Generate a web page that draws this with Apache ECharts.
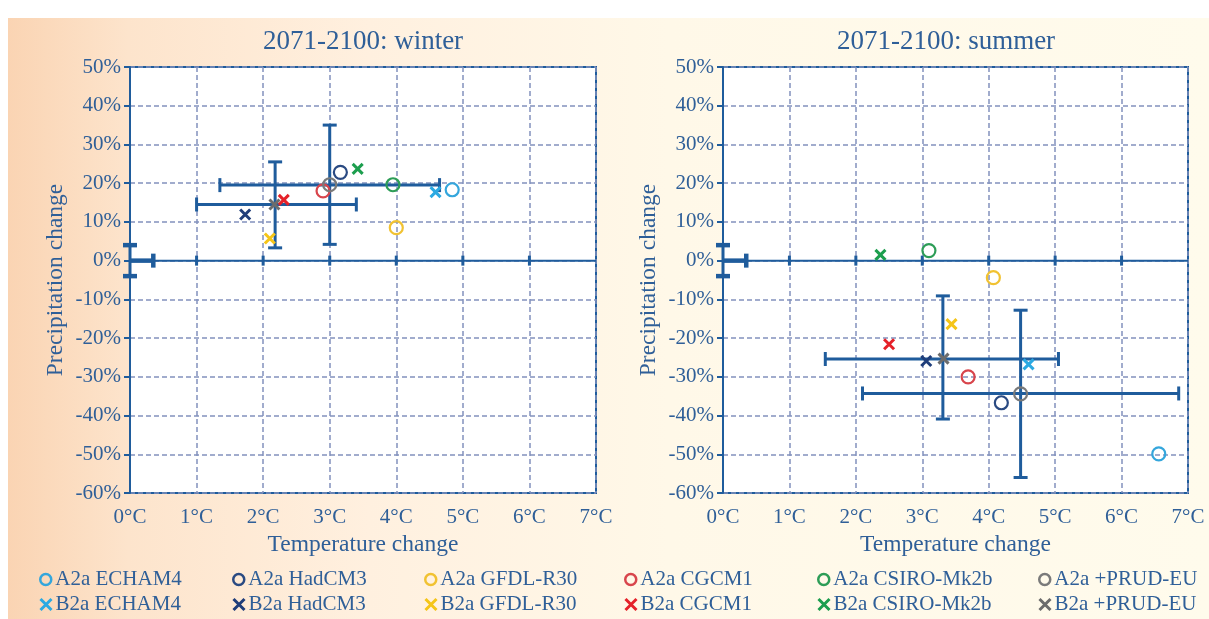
<!DOCTYPE html>
<html><head><meta charset="utf-8">
<script src="https://cdn.jsdelivr.net/npm/echarts@6/dist/echarts.min.js"></script>
<style>
html,body{margin:0;padding:0;background:#fff;overflow:hidden;}
#bg{position:absolute;left:8px;top:18px;width:1201px;height:601px;background:linear-gradient(to right,#fad4b3 0%,#fde4cc 10%,#fff0df 30%,#fff8e8 55%,#fffbec 100%);}
#chart{position:absolute;left:0;top:0;width:1209px;height:619px;}
</style></head><body><div id="bg"></div><div id="chart"></div>
<script>
// ---------- data ----------
const models = ['ECHAM4', 'HadCM3', 'GFDL-R30', 'CGCM1', 'CSIRO-Mk2b', '+PRUD-EU'];
const colorsA2a = ['#34a6dc', '#2a4a82', '#f1c232', '#d8454c', '#2d9d57', '#7a7a7a'];
const colorsB2a = ['#2ba9e2', '#1f3d7a', '#f5c518', '#e52129', '#1c9e4e', '#6c6c6c'];

const xTicks = [0, 1, 2, 3, 4, 5, 6, 7];
const xTickLabels = ['0°C', '1°C', '2°C', '3°C', '4°C', '5°C', '6°C', '7°C'];
const yTicks = [-60, -50, -40, -30, -20, -10, 0, 10, 20, 30, 40, 50];
const yTickLabels = ['-60%', '-50%', '-40%', '-30%', '-20%', '-10%', '0%', '10%', '20%', '30%', '40%', '50%'];

// winter 2071-2100
const winterA2aT = [4.84, 3.16, 4.00, 2.90, 3.95, 3.00];
const winterA2aP = [18.3, 22.8, 8.5, 18.0, 19.6, 19.6];
const winterB2aT = [4.59, 1.73, 2.10, 2.31, 3.42, 2.17];
const winterB2aP = [17.7, 11.9, 5.7, 15.7, 23.7, 14.5];
// summer 2071-2100
const summerA2aT = [6.56, 4.19, 4.07, 3.69, 3.10, 4.48];
const summerA2aP = [-49.9, -36.7, -4.4, -30.0, 2.6, -34.4];
const summerB2aT = [4.60, 3.06, 3.44, 2.50, 2.37, 3.32];
const summerB2aP = [-26.8, -25.9, -16.4, -21.6, 1.5, -25.3];

// error bars: [centerT, centerP, lowT, highT, lowP, highP]
const winterErrA2a = [3.00, 19.5, 1.35, 4.65, 4.2, 35.0];
const winterErrB2a = [2.18, 14.5, 1.00, 3.40, 3.3, 25.5];
const summerErrA2a = [4.48, -34.3, 2.10, 6.86, -56.0, -12.8];
const summerErrB2a = [3.31, -25.4, 1.54, 5.05, -40.9, -9.1];

// natural variability cross at origin
const natVarT = [0.35];
const natVarP = [4];

const titles = ['2071-2100: winter', '2071-2100: summer'];

// ---------- style ----------
const BLUE = '#1f5c9c';
const TXT = '#2f5f98';
const GRID_DASH = '#8391bd';
const FONT = '"Liberation Serif", "DejaVu Serif", serif';
const XPATH = 'path://M0,0L10,10M0,10L10,0';

const chart = echarts.init(document.getElementById('chart'));

function xAxisDef(gi) {
  return {
    type: 'value', gridIndex: gi, min: 0, max: 7, interval: 1,
    axisLine: { show: false, onZero: false },
    axisTick: { show: false },
    axisLabel: { formatter: v => xTickLabels[xTicks.indexOf(v)], fontSize: 21, color: TXT, fontFamily: FONT, margin: 14 },
    splitLine: { show: true, lineStyle: { type: [5, 3], color: GRID_DASH, width: 1.5 } },
    name: 'Temperature change', nameLocation: 'middle', nameGap: 40,
    nameTextStyle: { fontSize: 23.5, color: TXT, fontFamily: FONT }
  };
}
function yAxisDef(gi) {
  return {
    type: 'value', gridIndex: gi, min: -60, max: 50, interval: 10,
    axisLine: { show: true, onZero: false, lineStyle: { color: BLUE, width: 2 } },
    axisTick: { show: true, length: 6, lineStyle: { color: BLUE, width: 2 } },
    axisLabel: { formatter: v => yTickLabels[yTicks.indexOf(v)], fontSize: 21, color: TXT, fontFamily: FONT, margin: 9 },
    splitLine: { show: true, lineStyle: { type: [5, 3], color: GRID_DASH, width: 1.5 } },
    name: 'Precipitation change', nameLocation: 'middle', nameGap: 62, nameRotate: 90,
    nameTextStyle: { fontSize: 23.5, color: TXT, fontFamily: FONT }
  };
}

function zeroLine(params, api) {
  const p0 = api.coord([xTicks[0], 0]);
  const p1 = api.coord([xTicks[xTicks.length - 1], 0]);
  const ch = [{ type: 'line', shape: { x1: p0[0], y1: p0[1], x2: p1[0], y2: p1[1] }, style: { stroke: BLUE, lineWidth: 2 } }];
  xTicks.slice(1, -1).forEach(t => {
    const p = api.coord([t, 0]);
    ch.push({ type: 'line', shape: { x1: p[0], y1: p[1] - 5, x2: p[0], y2: p[1] + 5 }, style: { stroke: BLUE, lineWidth: 3 } });
  });
  const o = api.coord([0, 0]), h = api.coord([natVarT[0], 0]);
  const t = api.coord([0, natVarP[0]]), b = api.coord([0, -natVarP[0]]);
  ch.push({ type: 'line', shape: { x1: o[0], y1: o[1], x2: h[0], y2: h[1] }, style: { stroke: BLUE, lineWidth: 4.5 } });
  ch.push({ type: 'line', shape: { x1: h[0], y1: h[1] - 7, x2: h[0], y2: h[1] + 7 }, style: { stroke: BLUE, lineWidth: 4.5 } });
  ch.push({ type: 'line', shape: { x1: t[0], y1: t[1], x2: b[0], y2: b[1] }, style: { stroke: BLUE, lineWidth: 3 } });
  ch.push({ type: 'line', shape: { x1: t[0] - 7, y1: t[1], x2: t[0] + 7, y2: t[1] }, style: { stroke: BLUE, lineWidth: 4.5 } });
  ch.push({ type: 'line', shape: { x1: b[0] - 7, y1: b[1], x2: b[0] + 7, y2: b[1] }, style: { stroke: BLUE, lineWidth: 4.5 } });
  return { type: 'group', children: ch };
}

function errBar(params, api) {
  const c = [api.value(0), api.value(1)];
  const l = api.coord([api.value(2), c[1]]), r = api.coord([api.value(3), c[1]]);
  const lo = api.coord([c[0], api.value(4)]), hi = api.coord([c[0], api.value(5)]);
  const st = { stroke: BLUE, lineWidth: 3 };
  const cap = 7;
  return {
    type: 'group', children: [
      { type: 'line', shape: { x1: l[0], y1: l[1], x2: r[0], y2: r[1] }, style: st },
      { type: 'line', shape: { x1: l[0], y1: l[1] - cap, x2: l[0], y2: l[1] + cap }, style: st },
      { type: 'line', shape: { x1: r[0], y1: r[1] - cap, x2: r[0], y2: r[1] + cap }, style: st },
      { type: 'line', shape: { x1: lo[0], y1: lo[1], x2: hi[0], y2: hi[1] }, style: st },
      { type: 'line', shape: { x1: lo[0] - cap, y1: lo[1], x2: lo[0] + cap, y2: lo[1] }, style: st },
      { type: 'line', shape: { x1: hi[0] - cap, y1: hi[1], x2: hi[0] + cap, y2: hi[1] }, style: st }
    ]
  };
}

const series = [];
[0, 1].forEach(gi => {
  series.push({ type: 'custom', xAxisIndex: gi, yAxisIndex: gi, data: [[0, 0]], renderItem: zeroLine, silent: true, z: 1 });
  const errs = gi === 0 ? [winterErrA2a, winterErrB2a] : [summerErrA2a, summerErrB2a];
  series.push({ type: 'custom', xAxisIndex: gi, yAxisIndex: gi, data: errs, renderItem: errBar, silent: true, z: 2 });
  const aT = gi === 0 ? winterA2aT : summerA2aT, aP = gi === 0 ? winterA2aP : summerA2aP;
  const bT = gi === 0 ? winterB2aT : summerB2aT, bP = gi === 0 ? winterB2aP : summerB2aP;
  models.forEach((m, i) => {
    series.push({
      type: 'scatter', name: 'A2a ' + m, xAxisIndex: gi, yAxisIndex: gi, z: 5,
      symbol: 'circle', symbolSize: 13,
      itemStyle: { color: 'rgba(0,0,0,0)', borderColor: colorsA2a[i], borderWidth: 2.2, opacity: 1 },
      data: [[aT[i], aP[i]]]
    });
    series.push({
      type: 'scatter', name: 'B2a ' + m, xAxisIndex: gi, yAxisIndex: gi, z: 6,
      symbol: XPATH, symbolSize: 10,
      itemStyle: { color: 'rgba(0,0,0,0)', borderColor: colorsB2a[i], borderWidth: 3, opacity: 1 },
      data: [[bT[i], bP[i]]]
    });
  });
});

const legendX = [39, 232, 424, 624, 817, 1038];
const legendY = [569, 594];
const legends = [];
models.forEach((m, i) => {
  [0, 1].forEach(r => {
    legends.push({
      left: legendX[i], top: legendY[r], orient: 'horizontal', itemWidth: 11, itemHeight: 11,
      selectedMode: false, padding: 0,
      textStyle: { fontSize: 21, color: TXT, fontFamily: FONT, padding: [0, 0, 0, -1] },
      data: [r === 0
        ? { name: 'A2a ' + m, icon: 'circle', itemStyle: { color: 'rgba(0,0,0,0)', borderColor: colorsA2a[i], borderWidth: 2.5 } }
        : { name: 'B2a ' + m, icon: XPATH, itemStyle: { color: 'rgba(0,0,0,0)', borderColor: colorsB2a[i], borderWidth: 3 } }]
    });
  });
});

chart.setOption({
  animation: false,
  backgroundColor: 'transparent',
  grid: [
    { left: 130, top: 67, width: 466, height: 426, show: true, backgroundColor: '#ffffff', borderColor: BLUE, borderWidth: 2 },
    { left: 723, top: 67, width: 465, height: 426, show: true, backgroundColor: '#ffffff', borderColor: BLUE, borderWidth: 2 }
  ],
  xAxis: [xAxisDef(0), xAxisDef(1)],
  yAxis: [yAxisDef(0), yAxisDef(1)],
  legend: legends,
  graphic: [
    { type: 'text', x: 363, y: 42, style: { text: titles[0], fill: TXT, font: '27px ' + FONT, textAlign: 'center', textVerticalAlign: 'middle' } },
    { type: 'text', x: 946, y: 42, style: { text: titles[1], fill: TXT, font: '27px ' + FONT, textAlign: 'center', textVerticalAlign: 'middle' } }
  ],
  series: series
});
</script></body></html>
